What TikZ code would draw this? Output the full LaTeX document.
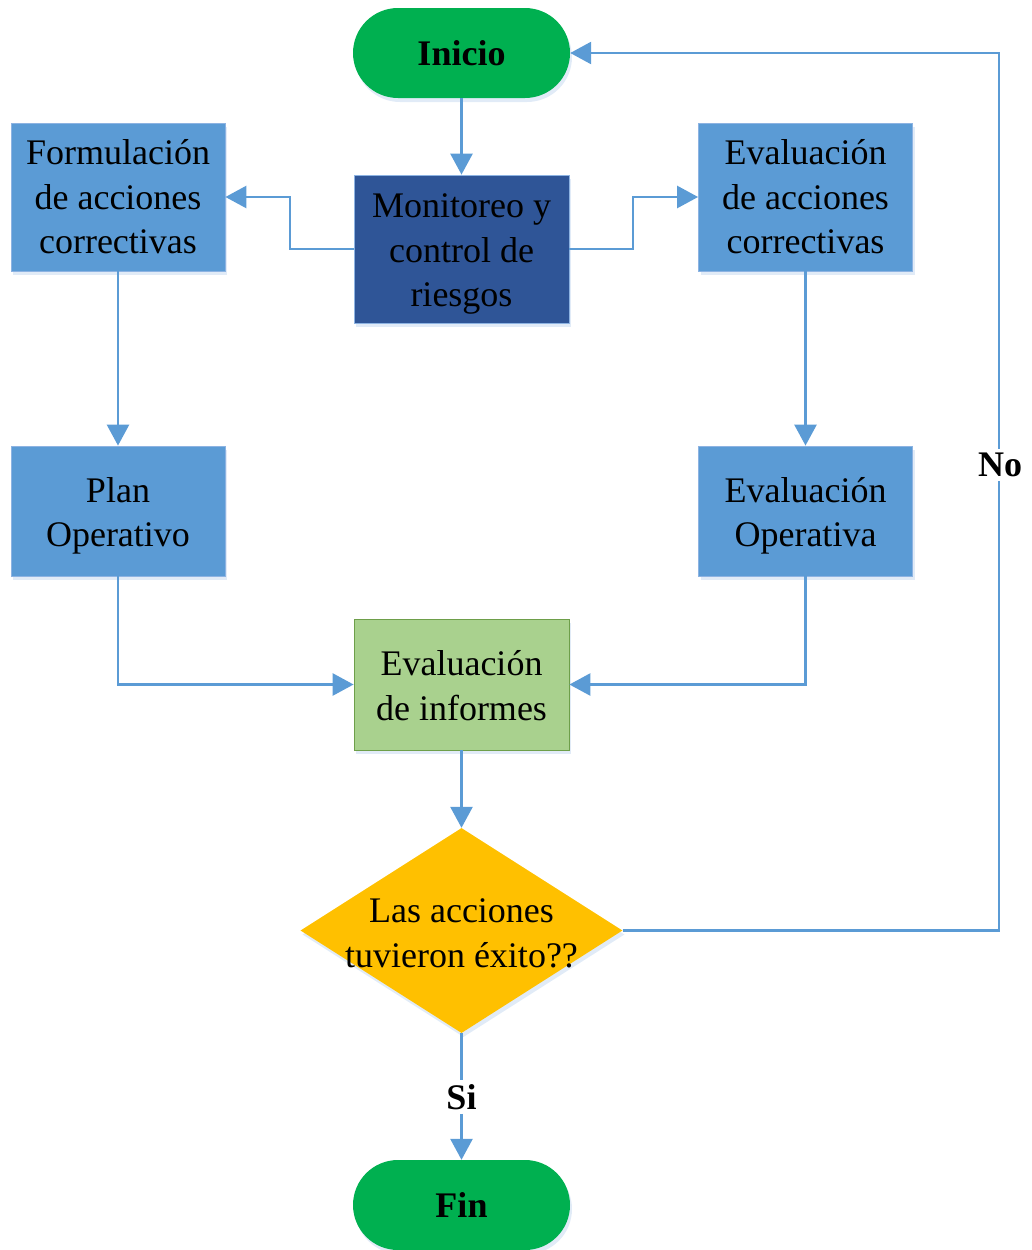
\documentclass[tikz,border=0pt]{standalone}
\usepackage{fontspec}
\setmainfont{Liberation Serif}
\usetikzlibrary{arrows.meta,shapes.misc,shapes.geometric,shadows}
\definecolor{termgreen}{HTML}{00B050}
\definecolor{boxblue}{HTML}{5B9BD5}
\definecolor{boxblueline}{HTML}{8DB3E2}
\definecolor{darkblue}{HTML}{2F5597}
\definecolor{boxgreen}{HTML}{A9D18E}
\definecolor{boxgreenline}{HTML}{6E9F4A}
\definecolor{decyellow}{HTML}{FFC000}
\definecolor{lineblue}{HTML}{5B9BD5}
\definecolor{shadowblue}{HTML}{BDD3EE}
\tikzset{
  txt/.style={font=\fontsize{36}{44.5}\selectfont, text=black, align=center, inner sep=0pt},
  shd/.style={drop shadow={shadow xshift=2pt,shadow yshift=-4pt,opacity=0.45,fill=shadowblue}},
  term/.style={txt, rounded rectangle, fill=termgreen, draw=none, minimum width=217pt, minimum height=90pt, font=\fontsize{36}{44.5}\selectfont\bfseries, shd},
  bluebox/.style={rectangle, fill=boxblue, draw=boxblueline, line width=0.8pt, minimum width=214pt, inner sep=0pt, shd},
  darkbox/.style={rectangle, fill=darkblue, draw=boxblueline, line width=0.8pt, minimum width=215pt, minimum height=148pt, inner sep=0pt, shd},
  greenbox/.style={rectangle, fill=boxgreen, draw=boxgreenline, line width=0.8pt, minimum width=215pt, minimum height=131pt, inner sep=0pt, shd},
  decision/.style={diamond, aspect=1.57, fill=decyellow, draw=none, minimum width=322pt, minimum height=205pt, inner sep=0pt, shd},
  lbl/.style={font=\fontsize{36}{44}\selectfont\bfseries, inner sep=4pt, text=black},
  conn/.style={draw=lineblue, line width=2.7pt},
  arr/.style={conn, -{Triangle[length=21pt,width=22pt]}},
}
\begin{document}
\begin{tikzpicture}[x=1pt,y=-1pt]
\useasboundingbox (0,0) rectangle (1031,1250);
\node[term] (ini) at (461.5,53) {Inicio};
\node[bluebox, minimum height=148pt, label={[txt]center:{Formulación\\de acciones\\correctivas}}] (form) at (118,197) {};
\node[darkbox, label={[txt, yshift=-5pt]center:{Monitoreo y\\control de\\riesgos}}] (mon) at (461.5,249) {};
\node[bluebox, minimum height=148pt, label={[txt]center:{Evaluación\\de acciones\\correctivas}}] (evac) at (805.5,197) {};
\node[bluebox, minimum height=130pt, label={[txt, yshift=-5pt]center:{Plan\\Operativo}}] (plan) at (118,511) {};
\node[bluebox, minimum height=130pt, label={[txt, yshift=-5pt]center:{Evaluación\\Operativa}}] (evop) at (805.5,511) {};
\node[greenbox, label={[txt, yshift=-1pt]center:{Evaluación\\de informes}}] (inf) at (461.5,684.5) {};
\node[decision, label={[txt, yshift=-3pt]center:{Las acciones\\tuvieron éxito??}}] (dec) at (461.5,930.5) {};
\node[term] (fin) at (461.5,1205) {Fin};
\node[lbl] (no) at (999,465) {\hspace*{2pt}No};
\node[lbl] (si) at (461.5,1097) {Si};

\draw[arr] (ini.south) -- (mon.north);
\draw[arr] (mon.west) -- (290,249) |- (form.east);
\draw[arr] (mon.east) -- (633,249) |- (evac.west);
\draw[arr] (form.south) -- (plan.north);
\draw[arr] (evac.south) -- (evop.north);
\draw[arr] (plan.south) |- (inf.west);
\draw[arr] (evop.south) |- (inf.east);
\draw[arr] (inf.south) -- (dec.north);
\draw[conn] (dec.east) -| (no.south);
\draw[arr] (no.north) |- (ini.east);
\draw[conn] (dec.south) -- (si.north);
\draw[arr] (si.south) -- (fin.north);
\end{tikzpicture}
\end{document}
